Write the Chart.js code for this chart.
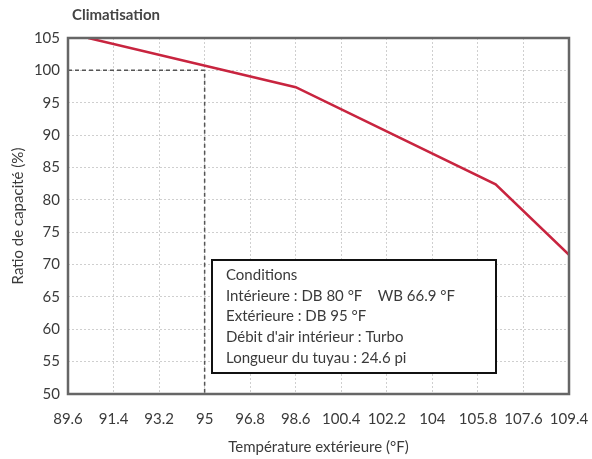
<!DOCTYPE html>
<html>
<head>
<meta charset="utf-8">
<script src="https://cdn.jsdelivr.net/npm/chart.js@4.4.0/dist/chart.umd.min.js"></script>
<style>
    body { margin: 0; background: #fff; }
</style>
</head>
<body>
<canvas id="chartClim" width="592" height="459"></canvas>
<script>
// Données
const tempExt = [90.4, 98.6, 106.5, 109.4];
const ratioCap = [105, 97.4, 82.4, 71.5];

// Repère pointillé (95 °F -> 100 %)
const refX = [89.6, 95, 95];
const refY = [100, 100, 50];

const xTicks = [89.6, 91.4, 93.2, 95, 96.8, 98.6, 100.4, 102.2, 104, 105.8, 107.6, 109.4];
const yMin = 50;
const yMax = 105;
const yStep = 5;

const conditions = [
    'Conditions',
    'Intérieure : DB 80 °F    WB 66.9 °F',
    'Extérieure : DB 95 °F',
    "Débit d'air intérieur : Turbo",
    'Longueur du tuyau : 24.6 pi'
];

const FONT = 'Lato, "Liberation Sans", sans-serif';
const textColor = '#3a3a3a';

// Cadre, titre et boîte des conditions
const decorPlugin = {
    id: 'decor',
    afterDatasetsDraw(chart) {
        const ctx = chart.ctx;
        const a = chart.chartArea;
        ctx.save();

        // boîte conditions
        const bx = a.left + 144, by = a.top + 222, bw = 284, bh = 113;
        ctx.fillStyle = '#fff';
        ctx.fillRect(bx, by, bw, bh);
        ctx.lineWidth = 2;
        ctx.strokeStyle = '#111';
        ctx.strokeRect(bx, by, bw, bh);
        ctx.fillStyle = textColor;
        ctx.font = '15px ' + FONT;
        ctx.textBaseline = 'middle';
        ctx.textAlign = 'left';
        conditions.forEach((t, i) => {
            ctx.fillText(t, bx + 14, by + 15 + i * 20.8);
        });

        // cadre
        ctx.lineWidth = 2.5;
        ctx.strokeStyle = '#666';
        ctx.strokeRect(a.left, a.top, a.right - a.left, a.bottom - a.top);

        // titre
        ctx.fillStyle = '#444';
        ctx.font = 'bold 15px ' + FONT;
        ctx.fillText('Climatisation', 72, 15);
        ctx.restore();
    }
};

const config = {
    type: 'scatter',
    data: {
        datasets: [
            {
                data: tempExt.map((x, i) => ({ x: x, y: ratioCap[i] })),
                showLine: true,
                borderColor: '#c8243f',
                borderWidth: 2.5,
                pointRadius: 0,
                tension: 0
            },
            {
                data: refX.map((x, i) => ({ x: x, y: refY[i] })),
                showLine: true,
                borderColor: '#555',
                borderWidth: 1.5,
                borderDash: [4, 3],
                pointRadius: 0,
                tension: 0
            }
        ]
    },
    options: {
        responsive: false,
        animation: false,
        layout: { padding: { top: 38, right: 23, left: 0, bottom: 0 } },
        plugins: {
            legend: { display: false },
            tooltip: { enabled: false }
        },
        scales: {
            x: {
                type: 'linear',
                min: xTicks[0],
                max: xTicks[xTicks.length - 1],
                afterBuildTicks: (scale) => {
                    scale.ticks = xTicks.map(v => ({ value: v }));
                },
                afterFit: (scale) => {
                    scale.height = 65;
                    scale.paddingLeft = 0;
                    scale.paddingRight = 0;
                },
                ticks: {
                    padding: 16,
                    color: textColor,
                    font: { family: FONT, size: 15 },
                    callback: (v) => String(v),
                    maxRotation: 0,
                    autoSkip: false
                },
                grid: { color: '#cfcfcf', lineWidth: 1, drawTicks: false },
                border: { display: false, dash: [2, 2] },
                title: {
                    display: true,
                    text: 'Température extérieure (°F)',
                    color: textColor,
                    font: { family: FONT, size: 15 },
                    padding: { top: 0, bottom: 3 }
                }
            },
            y: {
                min: yMin,
                max: yMax,
                afterFit: (scale) => {
                    scale.width = 68;
                    scale.paddingTop = 0;
                    scale.paddingBottom = 0;
                },
                ticks: {
                    stepSize: yStep,
                    padding: 8,
                    color: textColor,
                    font: { family: FONT, size: 15 }
                },
                grid: { color: '#cfcfcf', lineWidth: 1, drawTicks: false },
                border: { display: false, dash: [2, 2] },
                title: {
                    display: true,
                    text: 'Ratio de capacité (%)',
                    color: textColor,
                    font: { family: FONT, size: 15 },
                    padding: { top: 9, bottom: 0 }
                }
            }
        }
    },
    plugins: [decorPlugin]
};

const chartClim = new Chart(document.getElementById('chartClim'), config);
</script>
</body>
</html>
